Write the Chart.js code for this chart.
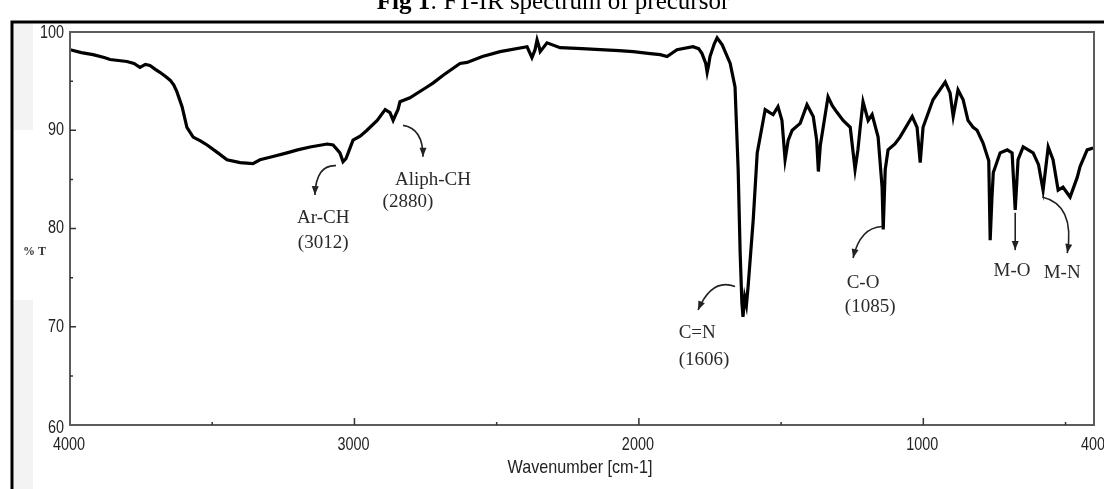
<!DOCTYPE html>
<html>
<head>
<meta charset="utf-8">
<script src="https://cdn.jsdelivr.net/npm/chart.js@4.4.1/dist/chart.umd.min.js"></script>
<style>
  html, body { margin: 0; padding: 0; background: #fff; }
  canvas { display: block; }
</style>
</head>
<body>
<canvas id="chart" width="1104" height="489"></canvas>
<script>
// wavenumber (cm-1) and %T
const wavenumbers = [
  4000, 3960, 3919, 3880, 3859, 3830, 3800, 3775, 3754, 3735, 3719, 3700, 3684, 3665, 3648, 3635,
  3624, 3606, 3589, 3567, 3540, 3518, 3480, 3448, 3402, 3357, 3332, 3290, 3237, 3200, 3156, 3096,
  3075, 3051, 3040, 3030, 3022, 3005, 2980, 2956, 2920, 2892, 2875, 2864, 2855, 2847, 2840, 2805,
  2745, 2724, 2688, 2629, 2604, 2550, 2488, 2393, 2376, 2365, 2358, 2350, 2347, 2323, 2277, 2200,
  2136, 2070, 2020, 1960, 1925, 1901, 1866, 1810, 1790, 1778, 1765, 1760, 1755, 1750, 1735, 1725,
  1707, 1679, 1662, 1651, 1644, 1638, 1634, 1628, 1622, 1616, 1598, 1584, 1563, 1556, 1540, 1528,
  1511, 1497, 1486, 1475, 1461, 1433, 1409, 1387, 1375, 1369, 1362, 1352, 1335, 1320, 1303, 1282,
  1257, 1240, 1230, 1222, 1212, 1194, 1180, 1159, 1145, 1141, 1134, 1124, 1100, 1082, 1039, 1022,
  1011, 1001, 966, 923, 906, 895, 878, 860, 843, 825, 811, 790, 770, 765, 759, 754,
  730, 705, 688, 677, 667, 649, 614, 595, 579, 561, 544, 526, 509, 484, 459, 449,
  424, 403
];
const transmittance = [
  98.2, 97.9, 97.7, 97.4, 97.2, 97.1, 97.0, 96.8, 96.4, 96.7, 96.6, 96.2, 95.9, 95.5, 95.1, 94.6,
  93.9, 92.4, 90.3, 89.3, 88.9, 88.5, 87.7, 87.0, 86.7, 86.6, 87.0, 87.3, 87.7, 88.0, 88.3, 88.6,
  88.5, 87.7, 86.8, 87.1, 87.7, 89.0, 89.4, 90.0, 91.0, 92.1, 91.8, 91.0, 91.6, 92.1, 92.9, 93.3,
  94.4, 94.8, 95.6, 96.8, 96.9, 97.5, 98.0, 98.5, 97.4, 98.2, 99.2, 98.4, 98.0, 98.9, 98.4, 98.3,
  98.2, 98.1, 98.0, 97.8, 97.7, 97.5, 98.2, 98.5, 98.3, 97.8, 96.8, 95.9, 96.6, 97.5, 98.8, 99.4,
  98.7, 96.8, 94.4, 86.0, 77.5, 72.5, 71.0, 73.0, 72.2, 74.1, 80.9, 87.7, 91.0, 92.1, 91.8, 91.6,
  92.4, 91.0, 87.0, 89.0, 90.0, 90.7, 92.6, 91.4, 89.0, 85.8, 88.5, 90.3, 93.4, 92.5, 91.8, 91.0,
  90.3, 86.0, 88.0, 90.3, 92.9, 91.0, 91.6, 89.3, 84.2, 79.9, 86.0, 88.0, 88.6, 89.3, 91.4, 90.3,
  86.7, 90.3, 93.1, 94.9, 93.8, 91.4, 94.1, 93.1, 91.0, 90.3, 90.0, 88.7, 86.9, 78.8, 83.0, 85.7,
  87.7, 88.0, 87.7, 81.9, 87.0, 88.3, 87.7, 86.5, 83.9, 88.3, 87.0, 83.9, 84.2, 83.2, 85.2, 86.3,
  88.0, 88.2
];

const xTickLabels = [4000, 3000, 2000, 1000, 400];
const xMinorTicks = [3500, 2500, 1500, 500];
const yTickLabels = [100, 90, 80, 70, 60];
const yMinorTicks = [95, 85, 75, 65];

// peak labels: text lines with their centre in data coords
const peakLabels = [
  { text: 'Ar-CH', w: 3110, t: 81.1 },
  { text: '(3012)', w: 3110, t: 78.5 },
  { text: 'Aliph-CH', w: 2724, t: 84.9 },
  { text: '(2880)', w: 2812, t: 82.7 },
  { text: 'C=N', w: 1795, t: 69.4 },
  { text: '(1606)', w: 1771, t: 66.6 },
  { text: 'C-O', w: 1212, t: 74.5 },
  { text: '(1085)', w: 1187, t: 72.0 },
  { text: 'M-O', w: 688, t: 75.7 },
  { text: 'M-N', w: 512, t: 75.5 },
];
// arrows: start, control, end (wavenumber, %T)
const peakArrows = [
  [[3065, 86.4], [3135, 86.5], [3139, 83.4]],
  [[2829, 90.5], [2759, 90.2], [2759, 87.3]],
  [[1662, 74.1], [1743, 75.0], [1792, 71.7]],
  [[1145, 80.2], [1222, 80.1], [1247, 77.0]],
  [[677, 81.6], [677, 79.7], [677, 77.8]],
  [[582, 83.2], [466, 82.4], [494, 77.5]],
];

const sansFont = "'Liberation Sans', Arial, sans-serif";

// narrow-looking text: squeeze horizontally around the anchor point
function narrowText(ctx, text, x, y, size, squeeze, align) {
  ctx.save();
  ctx.font = size + 'px ' + sansFont;
  ctx.textAlign = align;
  ctx.textBaseline = 'middle';
  ctx.translate(x, y);
  ctx.scale(squeeze, 1);
  ctx.fillText(text, 0, 0);
  ctx.restore();
}

const decorations = {
  id: 'decorations',
  beforeDraw(chart) {
    const ctx = chart.ctx;
    ctx.save();
    ctx.fillStyle = '#fff';
    ctx.fillRect(0, 0, chart.width, chart.height);
    // faint grey strip left of the plot
    ctx.fillStyle = '#f3f3f3';
    ctx.fillRect(14, 23, 19, 107);
    ctx.fillRect(14, 300, 19, 189);
    // figure frame
    ctx.strokeStyle = '#000';
    ctx.lineWidth = 3;
    ctx.beginPath();
    ctx.moveTo(12, 489);
    ctx.lineTo(12, 22);
    ctx.lineTo(1104, 22);
    ctx.stroke();
    // caption, mostly cut off at the top
    ctx.fillStyle = '#000';
    ctx.textBaseline = 'alphabetic';
    const boldPart = 'Fig 1';
    const rest = ': FT-IR spectrum of precursor';
    ctx.font = "bold 25px 'Liberation Serif', serif";
    const wb = ctx.measureText(boldPart).width;
    ctx.font = "25px 'Liberation Serif', serif";
    const wr = ctx.measureText(rest).width;
    const x0 = 553 - (wb + wr) / 2;
    ctx.font = "bold 25px 'Liberation Serif', serif";
    ctx.fillText(boldPart, x0, 9);
    ctx.font = "25px 'Liberation Serif', serif";
    ctx.fillText(rest, x0 + wb, 9);
    ctx.restore();
  },
  afterDraw(chart) {
    const { ctx, chartArea: a, scales: { x, y } } = chart;
    ctx.save();
    // plot border
    ctx.strokeStyle = '#5c5c5c';
    ctx.lineWidth = 2;
    ctx.strokeRect(a.left, a.top, a.right - a.left, a.bottom - a.top);
    // inward tick marks
    ctx.strokeStyle = '#333';
    ctx.lineWidth = 1.5;
    ctx.beginPath();
    [90, 80, 70].forEach((v) => {
      const py = y.getPixelForValue(v);
      ctx.moveTo(a.left, py); ctx.lineTo(a.left + 6, py);
    });
    yMinorTicks.forEach((v) => {
      const py = y.getPixelForValue(v);
      ctx.moveTo(a.left, py); ctx.lineTo(a.left + 3, py);
    });
    [3000, 2000, 1000].forEach((v) => {
      const px = x.getPixelForValue(v);
      ctx.moveTo(px, a.bottom); ctx.lineTo(px, a.bottom - 7);
    });
    xMinorTicks.forEach((v) => {
      const px = x.getPixelForValue(v);
      ctx.moveTo(px, a.bottom); ctx.lineTo(px, a.bottom - 3);
    });
    ctx.stroke();
    // tick labels and axis title
    ctx.fillStyle = '#222';
    xTickLabels.forEach((v) => {
      narrowText(ctx, String(v), x.getPixelForValue(v) - 1, a.bottom + 20, 18, 0.8, 'center');
    });
    yTickLabels.forEach((v) => {
      const off = v === 60 ? 3 : v === 100 ? 1 : 0;
      narrowText(ctx, String(v), a.left - 6, y.getPixelForValue(v) + off, 18, 0.8, 'right');
    });
    narrowText(ctx, 'Wavenumber [cm-1]', (a.left + a.right) / 2 - 2, 468, 19, 0.85, 'center');
    // %T label
    ctx.fillStyle = '#333';
    ctx.font = "bold 12px 'Liberation Serif', serif";
    ctx.textAlign = 'left';
    ctx.textBaseline = 'middle';
    ctx.fillText('% T', 23, 252);
    // peak labels
    ctx.fillStyle = '#2a2a2a';
    ctx.font = "19px 'Liberation Serif', serif";
    ctx.textAlign = 'center';
    peakLabels.forEach((l) => {
      ctx.fillText(l.text, x.getPixelForValue(l.w), y.getPixelForValue(l.t));
    });
    // arrows
    ctx.strokeStyle = '#222';
    ctx.fillStyle = '#222';
    ctx.lineWidth = 1.6;
    peakArrows.forEach(([s, c, e]) => {
      const sx = x.getPixelForValue(s[0]), sy = y.getPixelForValue(s[1]);
      const cx = x.getPixelForValue(c[0]), cy = y.getPixelForValue(c[1]);
      const ex = x.getPixelForValue(e[0]), ey = y.getPixelForValue(e[1]);
      ctx.beginPath();
      ctx.moveTo(sx, sy);
      ctx.quadraticCurveTo(cx, cy, ex, ey);
      ctx.stroke();
      const ang = Math.atan2(ey - cy, ex - cx);
      const len = 9, half = 3.5;
      ctx.beginPath();
      ctx.moveTo(ex, ey);
      ctx.lineTo(ex - len * Math.cos(ang) + half * Math.sin(ang), ey - len * Math.sin(ang) - half * Math.cos(ang));
      ctx.lineTo(ex - len * Math.cos(ang) - half * Math.sin(ang), ey - len * Math.sin(ang) + half * Math.cos(ang));
      ctx.closePath();
      ctx.fill();
    });
    ctx.restore();
  },
};

new Chart(document.getElementById('chart'), {
  type: 'line',
  data: {
    datasets: [{
      data: wavenumbers.map((w, i) => ({ x: w, y: transmittance[i] })),
      borderColor: '#000',
      borderWidth: 3.2,
      pointRadius: 0,
      tension: 0,
      fill: false,
    }],
  },
  options: {
    responsive: false,
    animation: false,
    layout: { padding: { left: 0, top: 32, right: 10, bottom: 0 } },
    plugins: { legend: { display: false }, tooltip: { enabled: false } },
    scales: {
      x: {
        type: 'linear',
        reverse: true,
        min: 400,
        max: 4000,
        afterFit: (scale) => { scale.height = 64; scale.paddingLeft = 0; scale.paddingRight = 0; },
        grid: { display: false },
        border: { display: false },
        ticks: { display: false },
      },
      y: {
        min: 60,
        max: 100,
        afterFit: (scale) => { scale.width = 70; scale.paddingTop = 0; scale.paddingBottom = 0; },
        grid: { display: false },
        border: { display: false },
        ticks: { display: false },
      },
    },
  },
  plugins: [decorations],
});
</script>
</body>
</html>
